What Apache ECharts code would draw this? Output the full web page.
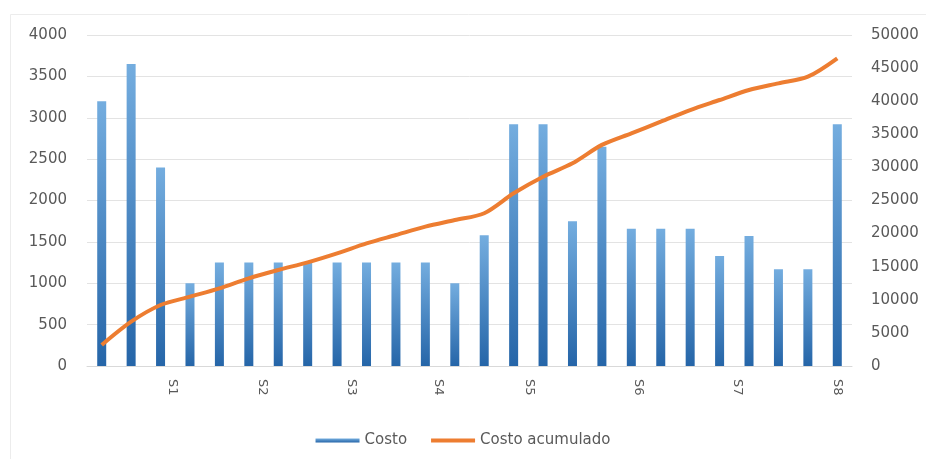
<!DOCTYPE html>
<html>
<head>
<meta charset="utf-8">
<script src="https://cdn.jsdelivr.net/npm/echarts@6/dist/echarts.min.js"></script>
<style>
html,body{margin:0;padding:0;background:#fff;}
#chart{width:926px;height:459px;}
</style>
</head>
<body>
<div id="chart"></div>
<script>
// Data
var categories = ['1','2','3','4','5','6','7','8','9','10','11','12','13','14','15','16','17','18','19','20','21','22','23','24','25','26'];
var costo = [3200,3650,2400,1000,1250,1250,1250,1250,1250,1250,1250,1250,1000,1580,2920,2920,1750,2650,1660,1660,1660,1330,1570,1170,1170,2920];
var costoAcumulado = [3170,6690,9210,10470,11730,13240,14500,15660,17020,18530,19790,21050,22050,23070,26090,28600,30620,33400,35150,36900,38670,40180,41690,42700,43700,46480];
var tickLabels = ['S1','S2','S3','S4','S5','S6','S7','S8'];
var tickAt = [2.4,5.45,8.5,11.45,14.55,18.25,21.6,25];

var font = 'DejaVu Sans';
var txt = '#595959';
var plain = function (v) { return String(v); };
var chart = echarts.init(document.getElementById('chart'));
chart.setOption({
  animation: false,
  backgroundColor: '#fff',
  graphic: [{
    type: 'rect', left: 8, top: 12, z: -10,
    shape: {width: 930, height: 460},
    style: {fill: 'none', stroke: '#ececec', lineWidth: 1}
  }],
  grid: {left: 87, right: 74, top: 35, bottom: 93},
  legend: {
    bottom: 6, left: 'center',
    itemGap: 24, itemWidth: 44, itemHeight: 4,
    textStyle: {color: txt, fontFamily: font, fontSize: 15},
    data: [{name: 'Costo', icon: 'rect'}, {name: 'Costo acumulado', icon: 'rect'}]
  },
  xAxis: [{
    type: 'category', data: categories,
    axisLine: {lineStyle: {color: '#d9d9d9'}},
    axisTick: {show: false},
    axisLabel: {show: false}
  }, {
    type: 'value', position: 'bottom', min: -0.5, max: 25.5,
    axisLine: {show: false}, axisTick: {show: false}, splitLine: {show: false},
    axisLabel: {
      show: true, customValues: tickAt, rotate: -90, margin: 13,
      color: txt, fontFamily: font, fontSize: 13,
      formatter: function (v) {
        for (var i = 0; i < tickAt.length; i++) { if (Math.abs(tickAt[i] - v) < 1e-6) return tickLabels[i]; }
        return '';
      }
    }
  }],
  yAxis: [{
    type: 'value', min: 0, max: 4000, interval: 500,
    axisLine: {show: false}, axisTick: {show: false},
    splitLine: {lineStyle: {color: '#e3e3e3'}},
    axisLabel: {color: txt, fontFamily: font, fontSize: 15, margin: 20, formatter: plain}
  }, {
    type: 'value', min: 0, max: 50000, interval: 5000, position: 'right',
    axisLine: {show: false}, axisTick: {show: false}, splitLine: {show: false},
    axisLabel: {color: txt, fontFamily: font, fontSize: 15, margin: 19, formatter: plain}
  }],
  series: [{
    name: 'Costo', type: 'bar', data: costo, barWidth: 9,
    xAxisIndex: 0, yAxisIndex: 0,
    itemStyle: {color: new echarts.graphic.LinearGradient(0, 0, 0, 1, [
      {offset: 0, color: '#74addf'}, {offset: 1, color: '#2565a8'}])}
  }, {
    name: 'Costo acumulado', type: 'line', data: costoAcumulado,
    xAxisIndex: 0, yAxisIndex: 1, smooth: 0.3, symbol: 'none', showSymbol: false,
    lineStyle: {color: '#ed7d31', width: 4},
    itemStyle: {color: '#ed7d31'}, z: 5
  }]
});
</script>
</body>
</html>
